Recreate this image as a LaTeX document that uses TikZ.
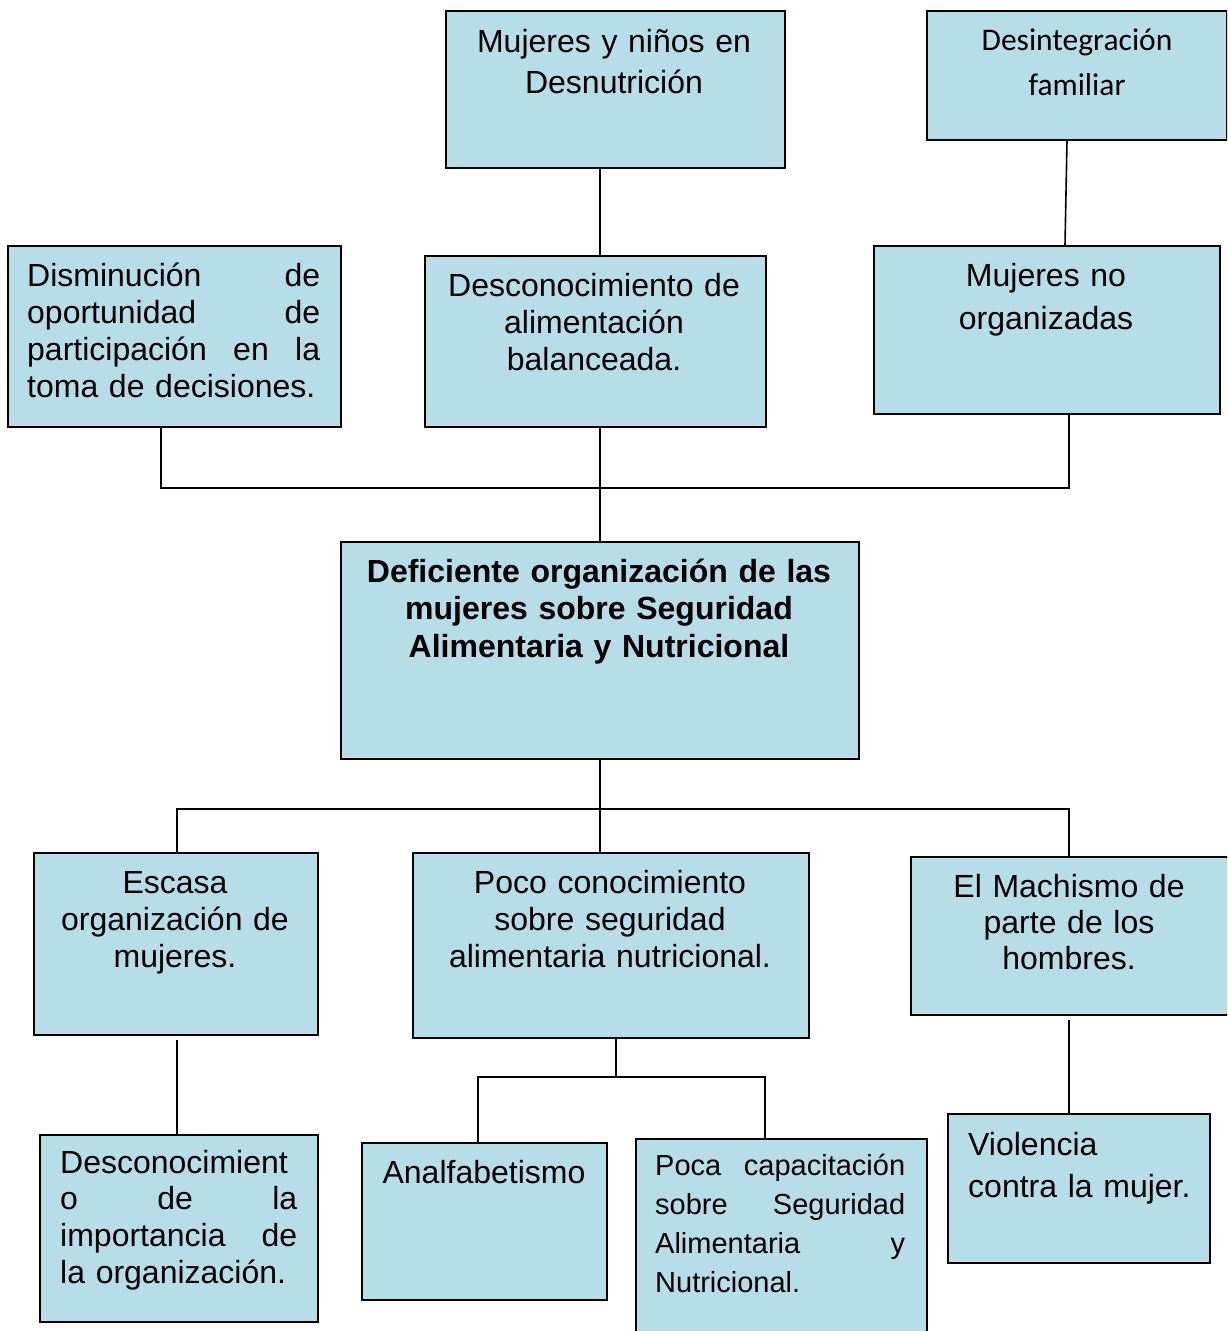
\documentclass[tikz,border=0pt]{standalone}
\usepackage{fontspec}
\setmainfont{Liberation Sans}
\newfontfamily\calibrifont{Carlito}
\definecolor{boxblue}{HTML}{B7DDE8}
\newcommand{\jline}[2]{\leavevmode\hbox to #1{#2}}
\begin{document}
\begin{tikzpicture}[x=1pt,y=-1pt,
  bx/.style={draw=black, line width=1.6pt, fill=boxblue, inner sep=0pt, anchor=north west},
  txt/.style={inner sep=0pt, anchor=base, align=center, font=\fontsize{32}{37}\selectfont},
  jtxt/.style={inner sep=0pt, anchor=base west, align=left, font=\fontsize{32}{37}\selectfont},
  conn/.style={draw=black, line width=1.6pt}]
\clip (0,0) rectangle (1227,1331);
\fill[white] (0,0) rectangle (1227,1331);

% boxes
\node[bx, minimum width=339, minimum height=157] (b1) at (445,10) {};
\node[bx, minimum width=300, minimum height=129] (b2) at (926,10) {};
\node[bx, minimum width=333, minimum height=181] (b3) at (7,245) {};
\node[bx, minimum width=341, minimum height=171] (b4) at (424,255) {};
\node[bx, minimum width=346, minimum height=168] (b5) at (873,245) {};
\node[bx, minimum width=518, minimum height=217] (b6) at (340,541) {};
\node[bx, minimum width=284, minimum height=182] (b7) at (33,852) {};
\node[bx, minimum width=396, minimum height=185] (b8) at (412,852) {};
\node[bx, minimum width=340, minimum height=158] (b9) at (910,856) {};
\node[bx, minimum width=278, minimum height=187] (b10) at (39,1134) {};
\node[bx, minimum width=245, minimum height=157] (b11) at (361,1142) {};
\node[bx, minimum width=291, minimum height=220] (b12) at (635,1138) {};
\node[bx, minimum width=262, minimum height=149] (b13) at (947,1113) {};

% texts
\node[txt, text width=330, font=\fontsize{32}{41}\selectfont] (t1) at (614,52) {Mujeres y niños en\\Desnutrición};
\node[txt, text width=290, font=\calibrifont\fontsize{31.5}{45}\selectfont] (t2) at (1077,50) {Desintegración\\familiar};
\node[jtxt, text width=293] (t3) at (27,286) {\jline{293pt}{Disminución\hfill de}\\\jline{293pt}{oportunidad\hfill de}\\\jline{293pt}{participación\hfill en\hfill la}\\toma de decisiones.};
\node[txt, text width=335] (t4) at (594,296) {Desconocimiento de\\alimentación\\balanceada.};
\node[txt, text width=340, font=\fontsize{32}{43}\selectfont] (t5) at (1046,286) {Mujeres no\\organizadas};
\node[txt, text width=510, font=\bfseries\fontsize{32}{37.5}\selectfont] (t6) at (599,582) {Deficiente organización de las\\mujeres sobre Seguridad\\Alimentaria y Nutricional};
\node[txt, text width=280] (t7) at (175,893) {Escasa\\organización de\\mujeres.};
\node[txt, text width=390] (t8) at (610,893) {Poco conocimiento\\sobre seguridad\\alimentaria nutricional.};
\node[txt, text width=310, font=\fontsize{32}{36}\selectfont] (t9) at (1069,897) {El Machismo de\\parte de los\\hombres.};
\node[jtxt, text width=237, font=\fontsize{32}{36.7}\selectfont] (t10) at (60,1173) {Desconocimient\\\jline{237pt}{o\hfill de\hfill la}\\\jline{237pt}{importancia\hfill de}\\la organización.};
\node[txt, text width=240] (t11) at (484,1183) {Analfabetismo};
\node[jtxt, text width=250, font=\fontsize{29}{39}\selectfont] (t12) at (655,1175) {\jline{250pt}{Poca\hfill capacitación}\\\jline{250pt}{sobre\hfill Seguridad}\\\jline{250pt}{Alimentaria\hfill y}\\Nutricional.};
\node[jtxt, text width=240, font=\fontsize{32}{42}\selectfont] (t13) at (968,1155) {Violencia\\contra la mujer.};

% junction coordinates
\coordinate (ja) at (161,488);
\coordinate (jb) at (1069,488);
\coordinate (jc) at (600,488);
\coordinate (jd) at (1067,0);
\coordinate (je) at (1065,0);
\coordinate (jf) at (177,809);
\coordinate (jg) at (1069,809);
\coordinate (jh) at (600,809);
\coordinate (ji) at (616,1077);
\coordinate (jj) at (478,1077);
\coordinate (jk) at (765,1077);

% connectors
\draw[conn] (b1.south -| jc) -- (b4.north -| jc);
\draw[conn] (b2.south -| jd) -- (b5.north -| je);
\draw[conn] (b3.south -| ja) -- (ja) -- (jb) -- (b5.south -| jb);
\draw[conn] (b4.south -| jc) -- (b6.north -| jc);
\draw[conn] (b6.south -| jh) -- (b8.north -| jh);
\draw[conn] (b7.north -| jf) -- (jf) -- (jg) -- (b9.north -| jg);
\draw[conn] (b8.south -| ji) -- (ji);
\draw[conn] (b11.north -| jj) -- (jj) -- (jk) -- (b12.north -| jk);
\draw[conn] ([yshift=-4]b7.south -| jf) -- (b10.north -| jf);
\draw[conn] ([yshift=-4]b9.south -| jg) -- (b13.north -| jg);
\end{tikzpicture}
\end{document}
